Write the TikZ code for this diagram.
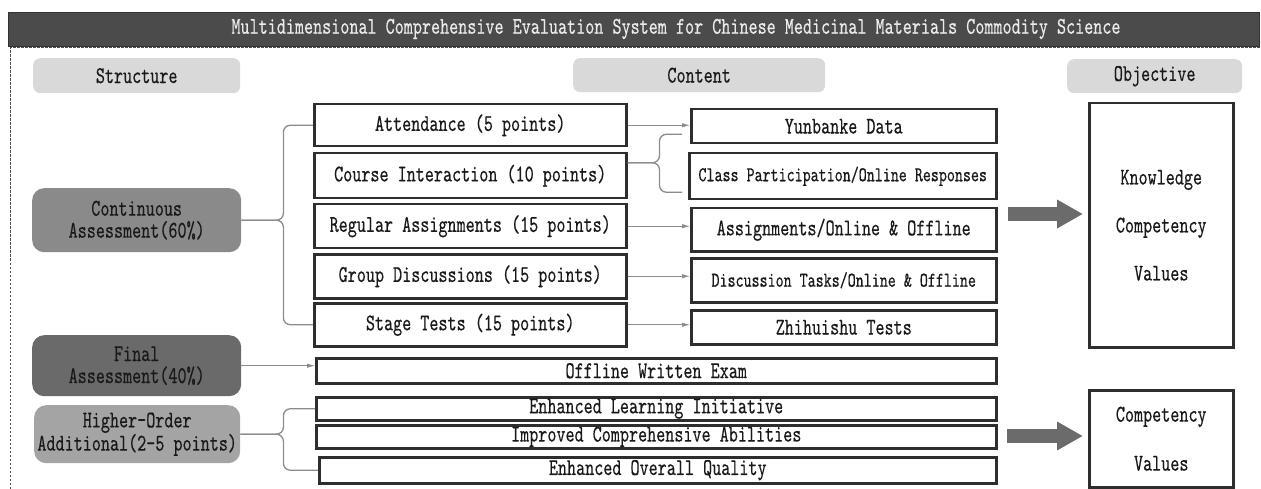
\documentclass[tikz,border=0pt]{standalone}
\usepackage{fontspec}
\newfontfamily\diagfont[FakeStretch=0.72,FakeBold=0.35]{lmmono10-regular.otf}
\usetikzlibrary{arrows.meta}
\definecolor{barbg}{HTML}{4B4B4B}
\definecolor{pillgray}{HTML}{D9D9D9}
\definecolor{contgray}{HTML}{8A8A8A}
\definecolor{finalgray}{HTML}{6A6A6A}
\definecolor{highgray}{HTML}{A4A4A4}
\definecolor{boxline}{HTML}{2E2E2E}
\definecolor{linkgray}{HTML}{8C8C8C}
\definecolor{arrowgray}{HTML}{6B6B6B}
\newcommand{\bigtxt}{\diagfont\fontsize{24}{24}\selectfont}
\newcommand{\smalltxt}{\diagfont\fontsize{21.2}{22}\selectfont}
\tikzset{
  every node/.style={font=\bigtxt, text=black!90, inner sep=0pt, anchor=north west},
  pill/.style={fill=pillgray, rounded corners=7pt},
  assess/.style={rounded corners=12pt, align=center, font=\diagfont\fontsize{24}{22}\selectfont},
  item/.style={draw=boxline, line width=2.5pt, fill=white},
  goal/.style={item, align=center},
  link/.style={draw=linkgray, line width=0.9pt, -{Latex[length=8pt,width=4.5pt]}},
  bracket/.style={draw=linkgray, line width=1.3pt, rounded corners=7pt},
  bigarrow/.style={draw=arrowgray, line width=14pt, -{Triangle[length=26pt,width=27pt]}, shorten >=5pt},
  frame/.style={draw=black!70, line width=1pt, dash pattern=on 2.5pt off 1.5pt}
}
\begin{document}
\begin{tikzpicture}[x=1pt,y=-1pt]
  \useasboundingbox (0,0) rectangle (1261,489);
  % title and frame
  \node[fill=barbg, draw=black!80, minimum width=1251pt, minimum height=34pt] (titlebar) at (8,12) {};
  \node[anchor=center, text=black!8] (title) at (676,29)
    {Multidimensional Comprehensive Evaluation System for Chinese Medicinal Materials Commodity Science};
  \draw[frame] (10,489) -- (10,48) -- (1261,48);
  % column heads
  \node[pill, minimum width=207pt, minimum height=35pt] (structure) at (33,58) {Structure};
  \node[pill, minimum width=252pt, minimum height=34pt] (content) at (573,58) {Content};
  \node[pill, minimum width=175pt, minimum height=34pt] (objective) at (1067,59) {Objective};
  % structure
  \node[assess, fill=contgray, minimum width=209pt, minimum height=64pt] (cont) at (32,188)
    {Continuous\\Assessment(60\%)};
  \node[assess, fill=finalgray, minimum width=209pt, minimum height=61pt] (final) at (32,335)
    {Final\\Assessment(40\%)};
  \node[assess, fill=highgray, minimum width=206pt, minimum height=58pt] (higher) at (34,405)
    {Higher-Order\\Additional(2-5 points)};
  % content
  \node[item, minimum width=312pt, minimum height=42pt] (att) at (313,103) {Attendance (5 points)};
  \node[item, minimum width=312pt, minimum height=45pt] (inter) at (313,152) {Course Interaction (10 points)};
  \node[item, minimum width=312pt, minimum height=44pt] (assign) at (313,203) {Regular Assignments (15 points)};
  \node[item, minimum width=312pt, minimum height=44pt] (disc) at (313,253) {Group Discussions (15 points)};
  \node[item, minimum width=312pt, minimum height=43pt] (stage) at (313,302) {Stage Tests (15 points)};

  \node[item, minimum width=305pt, minimum height=34pt] (yun) at (690,108) {Yunbanke Data};
  \node[item, minimum width=307pt, minimum height=46pt, font=\smalltxt] (part) at (688,152) {Class Participation/Online Responses};
  \node[item, minimum width=305pt, minimum height=43pt] (asgon) at (690,207) {Assignments/Online \& Offline};
  \node[item, minimum width=305pt, minimum height=44pt, font=\smalltxt] (discon) at (690,257) {Discussion Tasks/Online \& Offline};
  \node[item, minimum width=305pt, minimum height=34pt] (zhi) at (690,309) {Zhihuishu Tests};

  \node[item, minimum width=680pt, minimum height=25pt] (exam) at (315,357) {Offline Written Exam};
  \node[item, minimum width=680pt, minimum height=23pt] (init) at (315,396) {Enhanced Learning Initiative};
  \node[item, minimum width=680pt, minimum height=23pt] (abil) at (315,424) {Improved Comprehensive Abilities};
  \node[item, minimum width=677pt, minimum height=26pt] (qual) at (318,456) {Enhanced Overall Quality};
  % objective
  \node[goal, minimum width=144pt, minimum height=244pt] (know) at (1088,102)
    {Knowledge\\[24pt]Competency\\[24pt]Values};
  \node[goal, minimum width=144pt, minimum height=97pt] (comp) at (1088,389)
    {Competency\\[25pt]Values};

  % brackets
  \coordinate (tipA) at ([xshift=42pt]cont.east);
  \draw[bracket] (att.west) -| (tipA) -- (cont.east);
  \draw[bracket] (stage.west) -| (tipA) -- (cont.east);
  \coordinate (tipB) at ([xshift=32pt,yshift=13pt]inter.east);
  \coordinate (endB1) at ([xshift=-8pt,yshift=-8pt]yun.west);
  \coordinate (endB2) at ([xshift=-6pt,yshift=-16pt]part.west);
  \draw[bracket] (endB1) -| (tipB) -- ([yshift=13pt]inter.east);
  \draw[bracket] (endB2) -| (tipB) -- ([yshift=13pt]inter.east);
  \coordinate (tipC) at ([xshift=43pt]higher.east);
  \draw[bracket] (init.west) -| (tipC) -- (higher.east);
  \draw[bracket] (qual.west) -| (tipC) -- (higher.east);

  % links
  \draw[link] (att.east) -- (att.east -| yun.west);
  \draw[link] (assign.east) -- (assign.east -| asgon.west);
  \draw[link] (disc.east) -- (disc.east -| discon.west);
  \draw[link] (stage.east) -- (stage.east -| zhi.west);
  \draw[link] (final.east) -- (final.east -| exam.west);

  % to objectives
  \coordinate (startK) at (1008,214);
  \coordinate (startC) at (1007,436);
  \draw[bigarrow] (startK) -- (startK -| know.west);
  \draw[bigarrow] (startC) -- (startC -| comp.west);
\end{tikzpicture}
\end{document}
